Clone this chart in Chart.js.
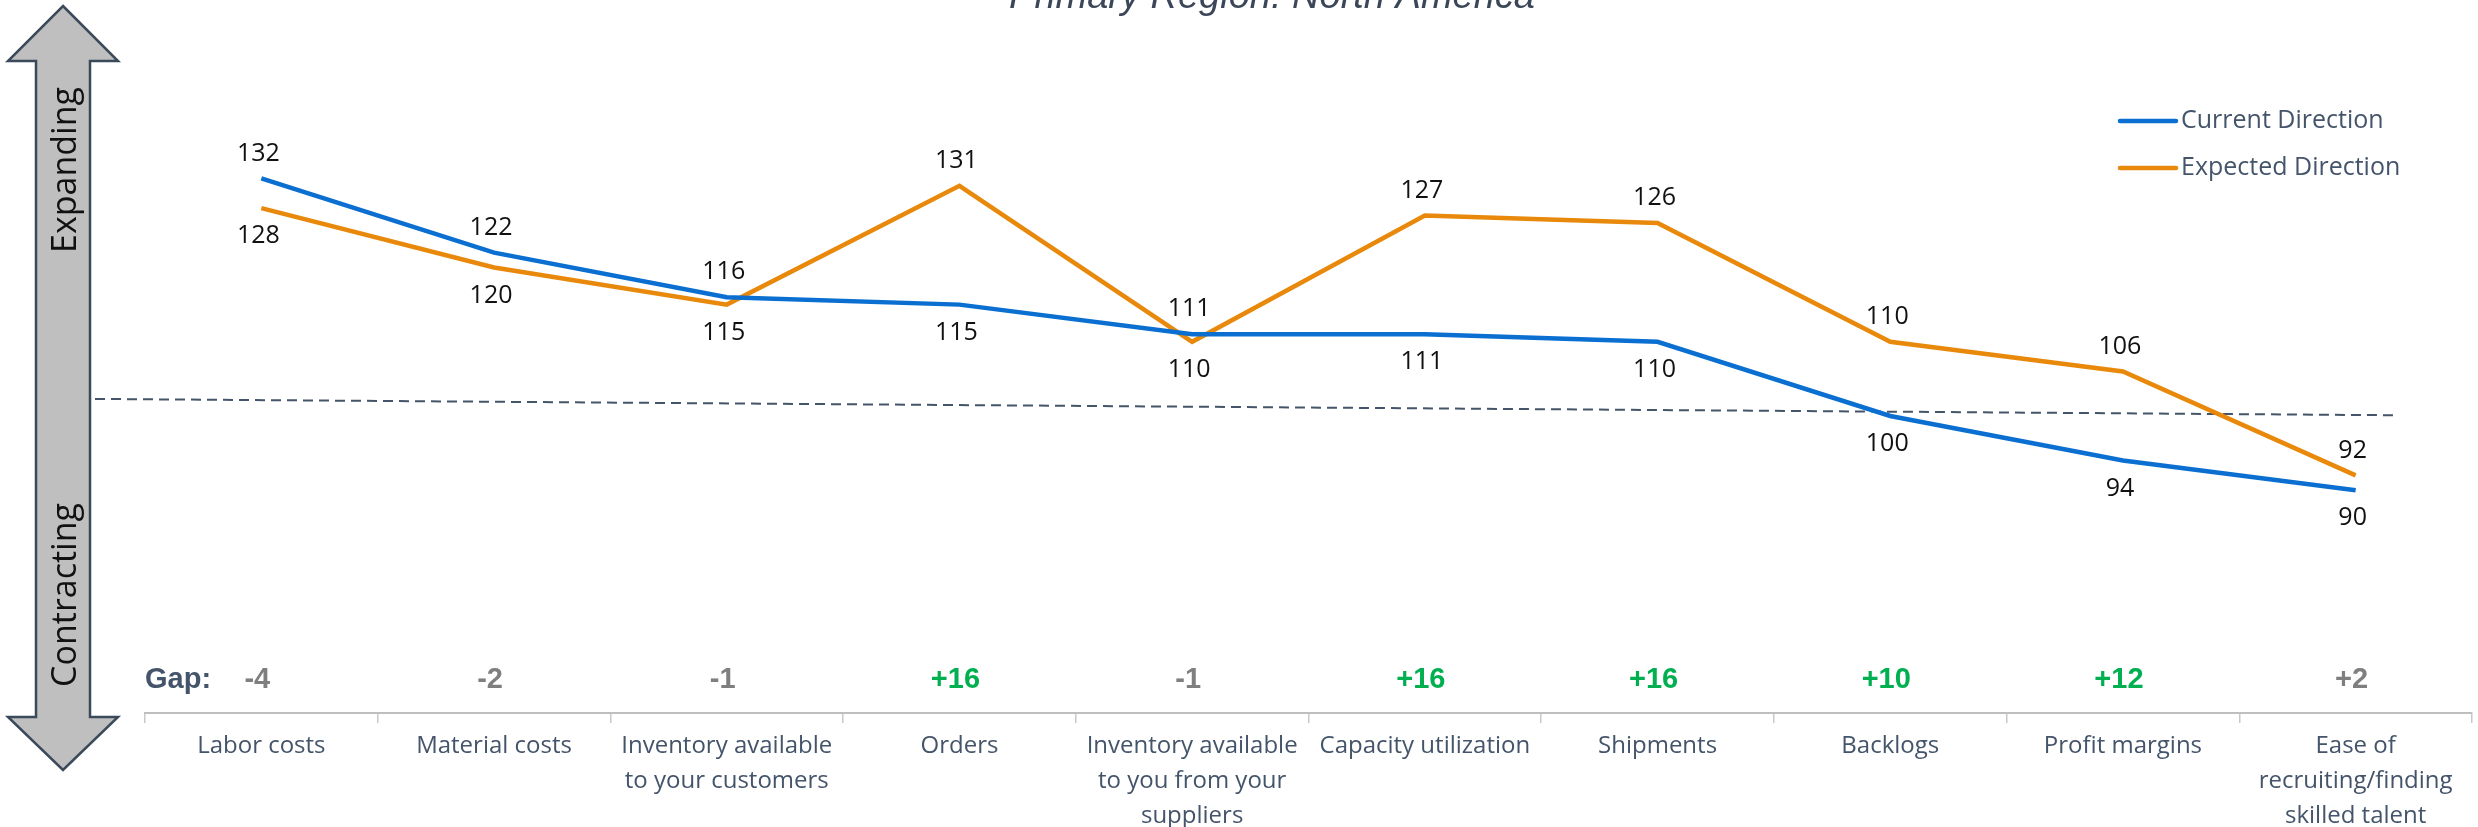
<!DOCTYPE html>
<html>
<head>
<meta charset="utf-8">
<script src="https://cdn.jsdelivr.net/npm/chart.js@4.4.0/dist/chart.umd.min.js"></script>
<style>
  html, body { margin: 0; padding: 0; background: #ffffff; }
  #wrap { width: 2478px; height: 827px; }
</style>
</head>
<body>
<div id="wrap"><canvas id="chart" width="2478" height="827"></canvas></div>
<script>
// Categories (x axis), multi-line like the original
const categories = [
    ['Labor costs'],
    ['Material costs'],
    ['Inventory available', 'to your customers'],
    ['Orders'],
    ['Inventory available', 'to you from your', 'suppliers'],
    ['Capacity utilization'],
    ['Shipments'],
    ['Backlogs'],
    ['Profit margins'],
    ['Ease of', 'recruiting/finding', 'skilled talent']
];

// Series values
const currentDirection = [132, 122, 116, 115, 111, 111, 110, 100, 94, 90];
const expectedDirection = [128, 120, 115, 131, 110, 127, 126, 110, 106, 92];

// Gap row (expected - current), as printed
const gapLabels = ['-4', '-2', '-1', '+16', '-1', '+16', '+16', '+10', '+12', '+2'];

// Dashed reference line (start value, end value) - slightly tilted in the original
const refLine = [102.3, 100.1];

const titleText = 'Primary Region: North America';

const BLUE = '#0A6FD0';
const ORANGE = '#E8890C';
const SLATE = '#44546A';

// Dessine le titre, la flèche, la ligne pointillée, les écarts, la légende, les étiquettes
const decorPlugin = {
    id: 'decor',
    beforeDatasetsDraw(chart) {
        const { ctx, chartArea, scales } = chart;
        const x = scales.x, y = scales.y;
        const n = categories.length;

        ctx.save();
        // title (mostly cut off at the top)
        ctx.font = 'italic 38px "Liberation Sans", Arial, sans-serif';
        ctx.fillStyle = '#3B4758';
        ctx.textAlign = 'center';
        ctx.textBaseline = 'alphabetic';
        ctx.fillText(titleText, 1272, 8);

        // double arrow on the left
        ctx.beginPath();
        ctx.moveTo(63, 6);
        ctx.lineTo(118, 61);
        ctx.lineTo(90, 61);
        ctx.lineTo(90, 717);
        ctx.lineTo(118, 717);
        ctx.lineTo(63, 770);
        ctx.lineTo(8, 717);
        ctx.lineTo(36, 717);
        ctx.lineTo(36, 61);
        ctx.lineTo(8, 61);
        ctx.closePath();
        ctx.fillStyle = '#BFBFBF';
        ctx.fill();
        ctx.lineWidth = 2.5;
        ctx.strokeStyle = '#3B4A5A';
        ctx.lineJoin = 'miter';
        ctx.stroke();

        ctx.fillStyle = '#111111';
        ctx.font = '34px "Open Sans", sans-serif';
        ctx.textAlign = 'center';
        ctx.textBaseline = 'middle';
        [['Expanding', 170], ['Contracting', 595]].forEach(([t, cy]) => {
            ctx.save();
            ctx.translate(66, cy);
            ctx.rotate(-Math.PI / 2);
            ctx.fillText(t, 0, 0);
            ctx.restore();
        });

        // dashed reference line
        ctx.beginPath();
        ctx.setLineDash([10, 6]);
        ctx.lineWidth = 2;
        ctx.strokeStyle = SLATE;
        ctx.moveTo(chartArea.left - 50, y.getPixelForValue(refLine[0]));
        ctx.lineTo(x.getPixelForValue(n - 1) + 40, y.getPixelForValue(refLine[1]));
        ctx.stroke();
        ctx.setLineDash([]);

        // gap row
        const gapY = chartArea.bottom - 33;
        ctx.font = 'bold 29px "Liberation Sans", Arial, sans-serif';
        ctx.textBaseline = 'middle';
        ctx.textAlign = 'left';
        ctx.fillStyle = SLATE;
        ctx.fillText('Gap:', chartArea.left, gapY);
        ctx.textAlign = 'center';
        gapLabels.forEach((g, i) => {
            const v = parseInt(g, 10);
            ctx.fillStyle = v >= 5 ? '#00B050' : '#7F7F7F';
            ctx.fillText(g, x.getPixelForValue(i) - 4, gapY);
        });

        // legend
        const lx = chartArea.right - 352;
        chart.data.datasets.forEach((ds, i) => {
            const ly = 121 + i * 47;
            ctx.beginPath();
            ctx.lineWidth = 4.5;
            ctx.lineCap = 'round';
            ctx.strokeStyle = ds.borderColor;
            ctx.moveTo(lx, ly);
            ctx.lineTo(lx + 56, ly);
            ctx.stroke();
            ctx.fillStyle = SLATE;
            ctx.font = '25px "Open Sans", sans-serif';
            ctx.textAlign = 'left';
            ctx.textBaseline = 'middle';
            ctx.fillText(ds.label, lx + 61, ly);
        });
        ctx.restore();
    },
    afterDatasetsDraw(chart) {
        const { ctx } = chart;
        const m0 = chart.getDatasetMeta(0), m1 = chart.getDatasetMeta(1);
        const series = [currentDirection, expectedDirection];
        ctx.save();
        ctx.font = '25px "Open Sans", sans-serif';
        ctx.fillStyle = '#111111';
        ctx.textAlign = 'center';
        ctx.textBaseline = 'middle';
        [m0, m1].forEach((meta, s) => {
            const other = series[1 - s];
            meta.data.forEach((pt, i) => {
                const above = series[s][i] > other[i];
                ctx.fillText(String(series[s][i]), pt.x - 3, above ? pt.y - 25 : pt.y + 28);
            });
        });
        ctx.restore();
    }
};

const ctx = document.getElementById('chart').getContext('2d');
new Chart(ctx, {
    type: 'line',
    data: {
        labels: categories,
        datasets: [
            {
                label: 'Current Direction',
                data: currentDirection,
                borderColor: BLUE,
                backgroundColor: BLUE,
                borderWidth: 4.5,
                pointRadius: 0,
                tension: 0
            },
            {
                label: 'Expected Direction',
                data: expectedDirection,
                borderColor: ORANGE,
                backgroundColor: ORANGE,
                borderWidth: 4.5,
                pointRadius: 0,
                tension: 0
            }
        ]
    },
    options: {
        responsive: false,
        devicePixelRatio: 1,
        animation: false,
        layout: { padding: { left: 145, right: 6, top: 119, bottom: 0 } },
        scales: {
            x: {
                offset: true,
                grid: {
                    display: true,
                    offset: true,
                    drawOnChartArea: false,
                    drawTicks: true,
                    tickLength: 10,
                    color: '#C8C8C8',
                    lineWidth: 1.5
                },
                border: { display: true, color: '#BFBFBF', width: 2 },
                ticks: {
                    autoSkip: false,
                    maxRotation: 0,
                    padding: 6,
                    color: SLATE,
                    font: { family: '"Open Sans", sans-serif', size: 24, lineHeight: 1.45 }
                },
                afterFit(scale) { scale.height = 114; }
            },
            y: {
                display: false,
                min: 60,
                max: 140
            }
        },
        plugins: {
            legend: { display: false },
            title: { display: false },
            tooltip: { enabled: false }
        }
    },
    plugins: [decorPlugin]
});
</script>
</body>
</html>
